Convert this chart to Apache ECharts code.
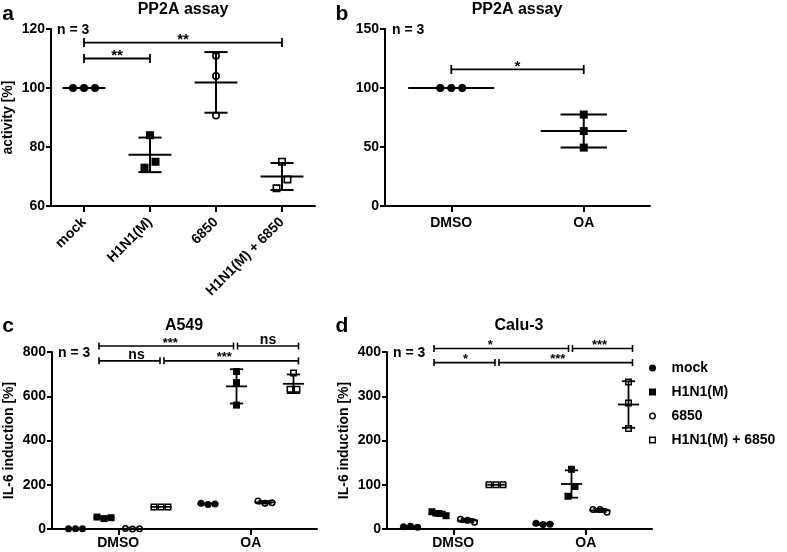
<!DOCTYPE html>
<html><head><meta charset="utf-8">
<script src="https://cdn.jsdelivr.net/npm/echarts@6/dist/echarts.min.js"></script>
<style>html,body{margin:0;padding:0;background:#fff}#chart{width:787px;height:552px}</style>
</head><body><div id="chart"></div>
<script>
// ---------------- data ----------------
// panel a: PP2A assay (activity [%])
const catA = ['mock', 'H1N1(M)', '6850', 'H1N1(M) + 6850'];
const yTicksA = [60, 80, 100, 120];
const aMock = [100, 100, 100];
const aH1N1 = [73, 84, 75];
const a6850 = [110.9, 104.1, 90.7];
const aCombo = [66, 75, 69];

// panel b: PP2A assay (activity [%])
const catB = ['DMSO', 'OA'];
const yTicksB = [0, 50, 100, 150];
const bDMSO = [100, 100, 100];
const bOA = [77.5, 63.5, 49.5];

// panels c (A549) and d (Calu-3): IL-6 induction [%], per category [DMSO, OA]
const catCD = ['DMSO', 'OA'];
const groupNames = ['mock', 'H1N1(M)', '6850', 'H1N1(M) + 6850'];
const yTicksC = [0, 200, 400, 600, 800];
const cMock = [[1, 1, 1], [116, 111, 113]];
const cH1N1 = [[54, 47, 51], [712, 662, 560]];
const c6850 = [[2, 0, 1], [127, 116, 119]];
const cCombo = [[100, 100, 100], [632, 705, 632]];

const yTicksD = [0, 100, 200, 300, 400];
const dMock = [[5, 6, 4], [13, 10, 11]];
const dH1N1 = [[39, 35, 30], [135, 74, 96]];
const d6850 = [[22, 20, 15], [44, 44, 38]];
const dCombo = [[100, 100, 100], [332, 285, 227]];

// significance brackets: from/to = [category index, group slot], y in data units
const bracketsA = [
  {from: [0, 0], to: [3, 0], y: 115.4, label: '**'},
  {from: [0, 0], to: [1, 0], y: 110, label: '**'}
];
const bracketsB = [
  {from: [0, 0], to: [1, 0], y: 115.7, label: '*'}
];
const bracketsC = [
  {from: [0, 1], to: [1, 1], y: 827, label: '***'},
  {from: [1, 1], to: [1, 3], y: 827, label: 'ns'},
  {from: [0, 1], to: [0, 3], y: 760, label: 'ns'},
  {from: [0, 3], to: [1, 3], y: 760, label: '***'}
];
const bracketsD = [
  {from: [0, 1], to: [1, 1], y: 408, label: '*'},
  {from: [1, 1], to: [1, 3], y: 408, label: '***'},
  {from: [0, 1], to: [0, 3], y: 376, label: '*'},
  {from: [0, 3], to: [1, 3], y: 376, label: '***'}
];

// ---------------- styles / layout ----------------
const FONT = '"Liberation Sans", Arial, Helvetica, sans-serif';
const slotsSingle = [0];
const slotsFour = [-0.3226, -0.1075, 0.1075, 0.3226];
// per-bracket fine pixel adjustments (ends / label) for c & d
const adjC = [{dx1: -5, dx2: -3, ldx: 4}, {dx1: 1, dx2: 5, ldx: 0}, {dx1: -5, dx2: -1, ldx: 7}, {dx1: 3, dx2: 5, ldx: -7}];
const adjD = [{dx1: -5, dx2: -3, ldx: -11}, {dx1: 1, dx2: 4, ldx: -3}, {dx1: -5, dx2: -1, ldx: 1}, {dx1: 3, dx2: 4, ldx: -8}];

const lookAB = {meanW: 0.65, capW: 0.35, lw: 2, size: 8, sp: 11, thr: 11, olw: 1.6};
const lookCD = {meanW: 0.16, capW: 0.1, lw: 1.8, size: 7, sp: 7, thr: 11, olw: 1.5};
const brAB = {tick: 9, lw: 1.8, star: 15, ns: 14, starDy: 3, nsDy: 6};
const brCD = {tick: 7, lw: 1.6, star: 13, ns: 14, starDy: 3, nsDy: 6};

function mean(a) { return a.reduce((s, v) => s + v, 0) / a.length; }
function sd(a) { const m = mean(a); return Math.sqrt(a.reduce((s, v) => s + (v - m) * (v - m), 0) / (a.length - 1)); }

function swarm(ys, thr, sp) {
  const idx = ys.map((y, i) => i).sort((p, q) => ys[p] - ys[q]);
  const off = ys.map(() => 0);
  let cl = [idx[0]];
  const flush = () => {
    const m = cl.slice().sort((p, q) => p - q);
    m.forEach((k, j) => { off[k] = (j - (m.length - 1) / 2) * sp; });
  };
  for (let k = 1; k < idx.length; k++) {
    if (Math.abs(ys[idx[k]] - ys[idx[k - 1]]) < thr) cl.push(idx[k]);
    else { flush(); cl = [idx[k]]; }
  }
  flush();
  return off;
}

function groupSeries(name, gi, perCat, slot, shape, filled, look) {
  const data = [];
  perCat.forEach((vals, ci) => { if (vals) data.push([ci, mean(vals), sd(vals)]); });
  return {
    type: 'custom', name: name, xAxisIndex: gi, yAxisIndex: gi, clip: false, silent: true,
    itemStyle: {color: '#000'}, encode: {x: 0, y: 1}, data: data,
    renderItem: function (params, api) {
      const ci = api.value(0), m = api.value(1), s = api.value(2);
      const vals = perCat[ci];
      const band = api.size([1, 0])[0];
      const cx = api.coord([ci, m])[0] + slot * band;
      const ym = api.coord([ci, m])[1], yt = api.coord([ci, m + s])[1], yb = api.coord([ci, m - s])[1];
      const mw = look.meanW * band / 2, cw = look.capW * band / 2;
      const ls = {stroke: '#000', lineWidth: look.lw, fill: 'none'};
      const ch = [];
      const line = (x1, y1, x2, y2) => ch.push({type: 'line', shape: {x1, y1, x2, y2}, style: ls});
      if (s > 0) { line(cx, yt, cx, yb); line(cx - cw, yt, cx + cw, yt); line(cx - cw, yb, cx + cw, yb); }
      line(cx - mw, ym, cx + mw, ym);
      const ys = vals.map(v => api.coord([ci, v])[1]);
      const off = swarm(ys, look.thr, look.sp);
      const r = look.size / 2;
      ys.forEach((y, i) => {
        const x = cx + off[i];
        const st = filled ? {fill: '#000', stroke: 'none'} : {fill: 'none', stroke: '#000', lineWidth: look.olw};
        const rr = filled ? r : r - look.olw / 2;
        if (shape === 'circle') ch.push({type: 'circle', shape: {cx: x, cy: y, r: rr}, style: st});
        else ch.push({type: 'rect', shape: {x: x - rr, y: y - rr, width: 2 * rr, height: 2 * rr}, style: st});
      });
      return {type: 'group', children: ch};
    }
  };
}

function bracketSeries(gi, list, slots, look, adj) {
  return {
    type: 'custom', xAxisIndex: gi, yAxisIndex: gi, clip: false, silent: true,
    data: list.map((b, i) => [b.from[0], b.y, i]), encode: {x: 0, y: 1},
    renderItem: function (params, api) {
      const i = api.value(2), b = list[i], a = (adj && adj[i]) || {};
      const band = api.size([1, 0])[0];
      const x1 = api.coord([b.from[0], b.y])[0] + slots[b.from[1]] * band + (a.dx1 || 0);
      const x2 = api.coord([b.to[0], b.y])[0] + slots[b.to[1]] * band + (a.dx2 || 0);
      const y = api.coord([b.from[0], b.y])[1];
      const ls = {stroke: '#000', lineWidth: look.lw};
      const h = look.tick / 2;
      const isNs = b.label === 'ns';
      return {type: 'group', children: [
        {type: 'line', shape: {x1: x1, y1: y, x2: x2, y2: y}, style: ls},
        {type: 'line', shape: {x1: x1, y1: y - h, x2: x1, y2: y + h}, style: ls},
        {type: 'line', shape: {x1: x2, y1: y - h, x2: x2, y2: y + h}, style: ls},
        {type: 'text', x: (x1 + x2) / 2 + (a.ldx || 0), y: y - (isNs ? look.nsDy : look.starDy),
          style: {text: b.label, fill: '#000', font: 'bold ' + (isNs ? look.ns : look.star) + 'px ' + FONT,
            align: 'center', verticalAlign: 'middle'}}
      ]};
    }
  };
}

function xAxisOf(gi, cats, margin, rotate) {
  return {
    gridIndex: gi, type: 'category', data: cats, boundaryGap: true,
    axisLine: {show: true, lineStyle: {color: '#000', width: 2}},
    axisTick: {show: true, alignWithLabel: true, length: 6, lineStyle: {color: '#000', width: 2}},
    axisLabel: {show: true, interval: 0, color: '#000', fontWeight: 'bold', fontSize: 14, fontFamily: FONT, margin: margin, rotate: rotate || 0},
    splitLine: {show: false}
  };
}
function yAxisOf(gi, ticks, name) {
  return {
    gridIndex: gi, type: 'value', min: ticks[0], max: ticks[ticks.length - 1], interval: ticks[1] - ticks[0],
    axisLine: {show: true, lineStyle: {color: '#000', width: 2}},
    axisTick: {show: true, length: 5, lineStyle: {color: '#000', width: 2}},
    axisLabel: {show: true, color: '#000', fontWeight: 'bold', fontSize: 14, fontFamily: FONT, margin: 6},
    splitLine: {show: false},
    name: name, nameLocation: 'middle', nameGap: 36, nameRotate: 90,
    nameTextStyle: {color: '#000', fontWeight: 'bold', fontSize: 14, fontFamily: FONT}
  };
}
function txt(x, y, text, size, align) {
  return {type: 'text', x: x, y: y, silent: true,
    style: {text: text, fill: '#000', font: 'bold ' + size + 'px ' + FONT, align: align || 'center', verticalAlign: 'middle'}};
}

const series = [];
// panel a
[aMock, aH1N1, a6850, aCombo].forEach((vals, g) => {
  const perCat = catA.map((c, ci) => ci === g ? vals : null);
  const shape = (g % 2 === 0) ? 'circle' : 'rect';
  series.push(groupSeries(groupNames[g], 0, perCat, 0, shape, g < 2, lookAB));
});
series.push(bracketSeries(0, bracketsA, slotsSingle, brAB, null));
// panel b
series.push(groupSeries('DMSO', 1, [bDMSO, null], 0, 'circle', true, lookAB));
series.push(groupSeries('OA', 1, [null, bOA], 0, 'rect', true, lookAB));
series.push(bracketSeries(1, bracketsB, slotsSingle, brAB, null));
// panels c and d
[[cMock, cH1N1, c6850, cCombo], [dMock, dH1N1, d6850, dCombo]].forEach((groups, p) => {
  groups.forEach((perCat, g) => {
    const shape = (g % 2 === 0) ? 'circle' : 'rect';
    series.push(groupSeries(groupNames[g], 2 + p, perCat, slotsFour[g], shape, g < 2, lookCD));
  });
});
series.push(bracketSeries(2, bracketsC, slotsFour, brCD, adjC));
series.push(bracketSeries(3, bracketsD, slotsFour, brCD, adjD));

const squareIcon = 'path://M0,0H10V10H0Z';
const openSquareIcon = 'path://M0,0H10V10H0Z M2,2V8H8V2Z';
const openCircleIcon = 'path://M5,0A5,5,0,1,1,5,10A5,5,0,1,1,5,0Z M5,2A3,3,0,1,0,5,8A3,3,0,1,0,5,2Z';

const chart = echarts.init(document.getElementById('chart'), null, {renderer: 'canvas'});
chart.setOption({
  animation: false,
  backgroundColor: '#fff',
  grid: [
    {left: 51, top: 29, width: 264, height: 177},
    {left: 385, top: 29, width: 265, height: 177},
    {left: 52, top: 352, width: 265, height: 177},
    {left: 387, top: 352, width: 265, height: 177}
  ],
  xAxis: [xAxisOf(0, catA, 14, 45), xAxisOf(1, catB, 10), xAxisOf(2, catCD, 7), xAxisOf(3, catCD, 7)],
  yAxis: [yAxisOf(0, yTicksA, 'activity [%]'), yAxisOf(1, yTicksB, ''), yAxisOf(2, yTicksC, 'IL-6 induction [%]'), yAxisOf(3, yTicksD, 'IL-6 induction [%]')],
  legend: {
    show: true, orient: 'vertical', left: 644, top: 356, itemWidth: 28, itemHeight: 7, itemGap: 10,
    selectedMode: false, symbolKeepAspect: true,
    textStyle: {color: '#000', fontWeight: 'bold', fontSize: 14, fontFamily: FONT},
    data: [
      {name: groupNames[0], icon: 'circle'},
      {name: groupNames[1], icon: squareIcon},
      {name: groupNames[2], icon: openCircleIcon},
      {name: groupNames[3], icon: openSquareIcon}
    ]
  },
  graphic: [
    txt(8, 14, 'a', 21), txt(342, 14, 'b', 21), txt(8, 326, 'c', 21), txt(342, 326, 'd', 21),
    txt(183, 10, 'PP2A assay', 16), txt(517, 10, 'PP2A assay', 16),
    txt(184, 326, 'A549', 16), txt(519, 326, 'Calu-3', 16),
    txt(57, 30, 'n = 3', 14, 'left'), txt(392, 30, 'n = 3', 14, 'left'),
    txt(58, 353, 'n = 3', 14, 'left'), txt(393, 353, 'n = 3', 14, 'left')
  ],
  series: series
});
</script>
</body></html>
